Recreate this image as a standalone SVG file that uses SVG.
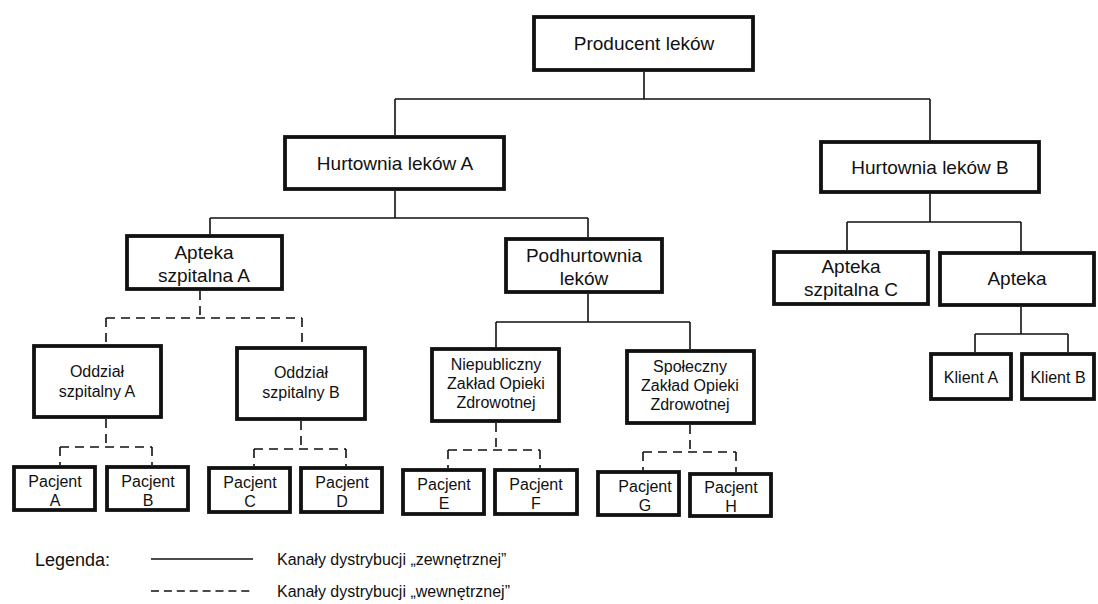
<svg xmlns="http://www.w3.org/2000/svg" width="1098" height="604" viewBox="0 0 1098 604">
  <style>
    .box { fill: #fff; stroke: #111; stroke-width: 3.8; }
    .t19 { font-family: "Liberation Sans", Arial, sans-serif; font-size: 19px; fill: #111; text-anchor: middle; }
    .t16 { font-family: "Liberation Sans", Arial, sans-serif; font-size: 16px; fill: #111; text-anchor: middle; }
    .leg { font-family: "Liberation Sans", Arial, sans-serif; fill: #111; }
    .solid { fill: none; stroke: #111; stroke-width: 1.6; }
    .dash { fill: none; stroke: #111; stroke-width: 1.6; stroke-dasharray: 9 6; }
  </style>
  <rect width="1098" height="604" fill="#fff"/>

  <!-- connectors -->
  <g id="connectors">
    <!-- external distribution (solid) -->
    <path class="solid" d="M644,72 V99 M395,99 H930 M395,99 V135 M930,99 V140"/>
    <path class="solid" d="M395,191 V218 M210,218 H588 M210,218 V234 M588,218 V237"/>
    <path class="solid" d="M588,294 V322 M496,322 H690 M496,322 V347 M690,322 V349"/>
    <path class="solid" d="M930,194 V222 M847,222 H1021 M847,222 V250 M1021,222 V251"/>
    <path class="solid" d="M1021,307 V334 M975,334 H1068 M975,334 V352 M1068,334 V352"/>
    <!-- internal distribution (dashed) -->
    <path class="dash" d="M200,291 V318 M106,318 H302 M106,318 V344 M302,318 V346"/>
    <path class="dash" d="M106,419 V447 M60,447 H152 M60,447 V465 M152,447 V465"/>
    <path class="dash" d="M301,421 V449 M254,449 H346 M254,449 V466 M346,449 V466"/>
    <path class="dash" d="M496,423 V450 M448,450 H540 M448,450 V468 M540,450 V468"/>
    <path class="dash" d="M690,425 V452 M643,452 H736 M643,452 V470 M736,452 V472"/>
  </g>

  <g id="producent">
    <rect class="box" x="534" y="17" width="219" height="53"/>
    <text class="t19" x="644" y="50">Producent leków</text>
  </g>
  <g id="hurtownia-a">
    <rect class="box" x="285" y="137" width="219" height="52"/>
    <text class="t19" x="395" y="170">Hurtownia leków A</text>
  </g>
  <g id="hurtownia-b">
    <rect class="box" x="821" y="142" width="218" height="50"/>
    <text class="t19" x="930" y="174">Hurtownia leków B</text>
  </g>
  <g id="apteka-szpitalna-a">
    <rect class="box" x="127" y="236" width="155" height="53"/>
    <text class="t19" x="204" y="259">Apteka</text>
    <text class="t19" x="204" y="282">szpitalna A</text>
  </g>
  <g id="podhurtownia">
    <rect class="box" x="506" y="239" width="156" height="53"/>
    <text class="t19" x="584" y="262">Podhurtownia</text>
    <text class="t19" x="584" y="285">leków</text>
  </g>
  <g id="apteka-szpitalna-c">
    <rect class="box" x="774" y="252" width="154" height="52"/>
    <text class="t19" x="851" y="273">Apteka</text>
    <text class="t19" x="851" y="296">szpitalna C</text>
  </g>
  <g id="apteka">
    <rect class="box" x="940" y="253" width="154" height="52"/>
    <text class="t19" x="1017" y="285">Apteka</text>
  </g>
  <g id="oddzial-a">
    <rect class="box" x="34" y="346" width="127" height="71"/>
    <text class="t16" x="97" y="377">Oddział</text>
    <text class="t16" x="97" y="397">szpitalny A</text>
  </g>
  <g id="oddzial-b">
    <rect class="box" x="237" y="348" width="128" height="71"/>
    <text class="t16" x="301" y="378">Oddział</text>
    <text class="t16" x="301" y="398">szpitalny B</text>
  </g>
  <g id="niepubliczny-zoz">
    <rect class="box" x="432" y="349" width="127" height="72"/>
    <text class="t16" x="496" y="370">Niepubliczny</text>
    <text class="t16" x="496" y="389">Zakład Opieki</text>
    <text class="t16" x="496" y="408">Zdrowotnej</text>
  </g>
  <g id="spoleczny-zoz">
    <rect class="box" x="627" y="351" width="127" height="72"/>
    <text class="t16" x="690" y="372">Społeczny</text>
    <text class="t16" x="690" y="391">Zakład Opieki</text>
    <text class="t16" x="690" y="410">Zdrowotnej</text>
  </g>
  <g id="klient-a">
    <rect class="box" x="931" y="354" width="80" height="45"/>
    <text class="t16" x="971" y="383">Klient A</text>
  </g>
  <g id="klient-b">
    <rect class="box" x="1022" y="354" width="72" height="45"/>
    <text class="t16" x="1058" y="383">Klient B</text>
  </g>

  <g id="pacjent-a">
    <rect class="box" x="14" y="467" width="81" height="43"/>
    <text class="t16" x="55" y="487">Pacjent</text>
    <text class="t16" x="55" y="506">A</text>
  </g>
  <g id="pacjent-b">
    <rect class="box" x="107" y="467" width="81" height="43"/>
    <text class="t16" x="148" y="487">Pacjent</text>
    <text class="t16" x="148" y="506">B</text>
  </g>
  <g id="pacjent-c">
    <rect class="box" x="209" y="468" width="81" height="44"/>
    <text class="t16" x="250" y="488">Pacjent</text>
    <text class="t16" x="250" y="507">C</text>
  </g>
  <g id="pacjent-d">
    <rect class="box" x="301" y="468" width="81" height="44"/>
    <text class="t16" x="342" y="488">Pacjent</text>
    <text class="t16" x="342" y="507">D</text>
  </g>
  <g id="pacjent-e">
    <rect class="box" x="403" y="470" width="81" height="44"/>
    <text class="t16" x="444" y="490">Pacjent</text>
    <text class="t16" x="444" y="509">E</text>
  </g>
  <g id="pacjent-f">
    <rect class="box" x="495" y="470" width="82" height="44"/>
    <text class="t16" x="536" y="490">Pacjent</text>
    <text class="t16" x="536" y="509">F</text>
  </g>
  <g id="pacjent-g">
    <rect class="box" x="598" y="472" width="81" height="43"/>
    <text class="t16" x="645" y="492">Pacjent</text>
    <text class="t16" x="645" y="511">G</text>
  </g>
  <g id="pacjent-h">
    <rect class="box" x="690" y="474" width="81" height="42"/>
    <text class="t16" x="731" y="493">Pacjent</text>
    <text class="t16" x="731" y="512">H</text>
  </g>

  <!-- legend -->
  <g id="legend">
    <text class="leg" x="35" y="566" font-size="18">Legenda:</text>
    <line class="solid" x1="151" y1="559" x2="253" y2="559"/>
    <text class="leg" x="277" y="565" font-size="16">Kanały dystrybucji „zewnętrznej”</text>
    <line x1="151" y1="591" x2="253" y2="591" stroke="#111" stroke-width="1.6" stroke-dasharray="8 4.9"/>
    <text class="leg" x="277" y="597" font-size="16">Kanały dystrybucji „wewnętrznej”</text>
  </g>
</svg>
